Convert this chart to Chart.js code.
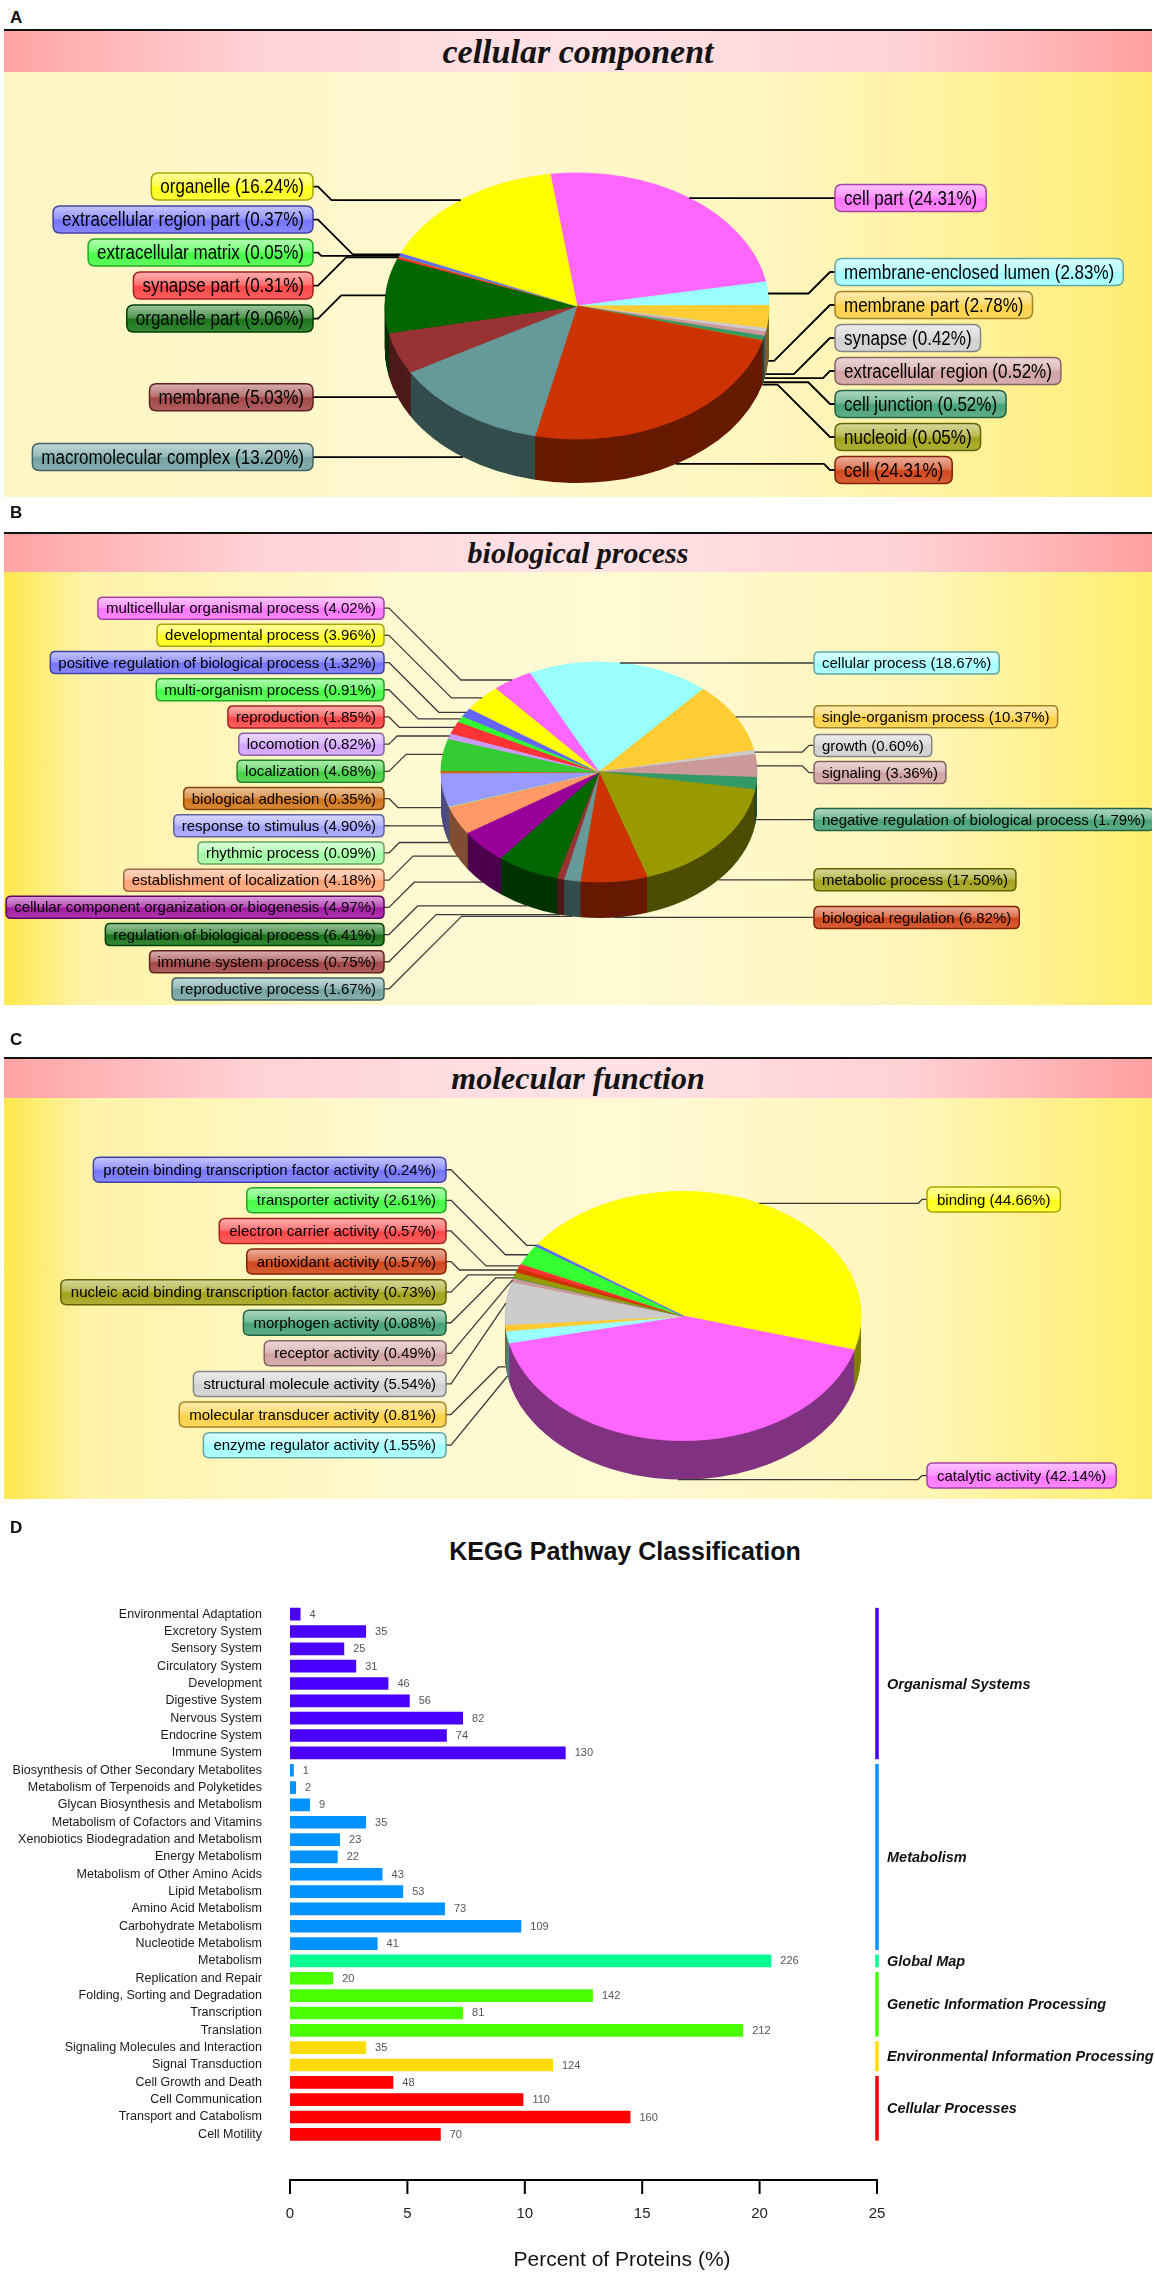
<!DOCTYPE html>
<html>
<head>
<meta charset="utf-8">
<title>GO and KEGG classification</title>
<script src="https://cdn.jsdelivr.net/npm/chart.js@4.4.1/dist/chart.umd.min.js"></script>
<style>
  body { margin: 0; background: #fff; }
  #page { position: relative; width: 1155px; height: 2278px; overflow: hidden; }
  .letter { position: absolute; left: 10px; font: bold 17px 'Liberation Sans', Arial, sans-serif; color: #111; line-height: 20px; }
  .frame { position: absolute; left: 4px; width: 1148px; border-top: 2px solid #111; }
  .head { background: linear-gradient(to right, #ffa4a4 0%, #ffd2d6 22%, #ffe3e7 50%, #ffd2d6 78%, #ffa0a0 100%); text-align: center; font-family: 'Liberation Serif', 'DejaVu Serif', serif; font-style: italic; font-weight: bold; color: #141414; }
  .body { position: relative; }
  .body canvas { position: absolute; left: 0; }
  .yA { background: linear-gradient(to right, #fff5c4 0%, #fff8d0 40%, #fff5bb 70%, #fff08c 90%, #ffec70 100%); }
  .yBC { background: linear-gradient(to right, #ffe84c 0%, #fff3a8 7%, #fff9d2 35%, #fff9d4 55%, #fff5b8 80%, #ffee6c 100%); }
  #keggTitle { position: absolute; left: 375px; width: 500px; top: 1536px; text-align: center; font: bold 25px 'Liberation Sans', Arial, sans-serif; color: #111; line-height: 30px; }
  #keggChart { position: absolute; left: 0; top: 1570px; }
</style>
</head>
<body>
<div id="page">
  <div class="letter" style="top:8px">A</div>
  <div class="frame" style="top:29px">
    <div class="head" style="height:41px; line-height:41px; font-size:34px">cellular component</div>
    <div class="body yA" style="height:425px"><canvas id="ccChart" width="1148" height="440" style="top:0"></canvas></div>
  </div>

  <div class="letter" style="top:503px">B</div>
  <div class="frame" style="top:532px">
    <div class="head" style="height:38px; line-height:38px; font-size:30px">biological process</div>
    <div class="body yBC" style="height:433px"><canvas id="bpChart" width="1148" height="430" style="top:6px"></canvas></div>
  </div>

  <div class="letter" style="top:1030px">C</div>
  <div class="frame" style="top:1057px">
    <div class="head" style="height:39px; line-height:39px; font-size:32px">molecular function</div>
    <div class="body yBC" style="height:401px"><canvas id="mfChart" width="1148" height="412" style="top:0"></canvas></div>
  </div>

  <div class="letter" style="top:1518px">D</div>
  <div id="keggTitle">KEGG Pathway Classification</div>
  <canvas id="keggChart" width="1155" height="708"></canvas>
</div>

<script>
// ---- A: cellular component (clockwise from the top)
const ccLabels = ['cell part', 'membrane-enclosed lumen', 'membrane part', 'synapse', 'extracellular region',
  'cell junction', 'nucleoid', 'cell', 'macromolecular complex', 'membrane', 'organelle part',
  'synapse part', 'extracellular matrix', 'extracellular region part', 'organelle'];
const ccValues = [24.31, 2.83, 2.78, 0.42, 0.52, 0.52, 0.05, 24.31, 13.20, 5.03, 9.06, 0.31, 0.05, 0.37, 16.24];
const ccColors = ['#ff66ff', '#99ffff', '#ffcc33', '#cccccc', '#cc9999', '#339966', '#999900', '#cc3300',
  '#669999', '#993333', '#006600', '#ff3333', '#33ff33', '#6666ff', '#ffff00'];

// ---- B: biological process
const bpLabels = ['cellular process', 'single-organism process', 'growth', 'signaling',
  'negative regulation of biological process', 'metabolic process', 'biological regulation',
  'reproductive process', 'immune system process', 'regulation of biological process',
  'cellular component organization or biogenesis', 'establishment of localization', 'rhythmic process',
  'response to stimulus', 'biological adhesion', 'localization', 'locomotion', 'reproduction',
  'multi-organism process', 'positive regulation of biological process', 'developmental process',
  'multicellular organismal process'];
const bpValues = [18.67, 10.37, 0.60, 3.36, 1.79, 17.50, 6.82, 1.67, 0.75, 6.41, 4.97, 4.18, 0.09, 4.90,
  0.35, 4.68, 0.82, 1.85, 0.91, 1.32, 3.96, 4.02];
const bpColors = ['#99ffff', '#ffcc33', '#cccccc', '#cc9999', '#339966', '#999900', '#cc3300', '#669999',
  '#993333', '#006600', '#990099', '#ff9966', '#99ff99', '#9999ff', '#cc6600', '#33cc33', '#cc99ff',
  '#ff3333', '#33ff33', '#6666ff', '#ffff00', '#ff66ff'];

// ---- C: molecular function
const mfLabels = ['binding', 'catalytic activity', 'enzyme regulator activity', 'molecular transducer activity',
  'structural molecule activity', 'receptor activity', 'morphogen activity',
  'nucleic acid binding transcription factor activity', 'antioxidant activity', 'electron carrier activity',
  'transporter activity', 'protein binding transcription factor activity'];
const mfValues = [44.66, 42.14, 1.55, 0.81, 5.54, 0.49, 0.08, 0.73, 0.57, 0.57, 2.61, 0.24];
const mfColors = ['#ffff00', '#ff66ff', '#99ffff', '#ffcc33', '#cccccc', '#cc9999', '#339966', '#999900',
  '#cc3300', '#ff3333', '#33ff33', '#6666ff'];

// ---- D: KEGG pathway classification
const keggPathways = ['Environmental Adaptation', 'Excretory System', 'Sensory System', 'Circulatory System',
  'Development', 'Digestive System', 'Nervous System', 'Endocrine System', 'Immune System',
  'Biosynthesis of Other Secondary Metabolites', 'Metabolism of Terpenoids and Polyketides',
  'Glycan Biosynthesis and Metabolism', 'Metabolism of Cofactors and Vitamins',
  'Xenobiotics Biodegradation and Metabolism', 'Energy Metabolism', 'Metabolism of Other Amino Acids',
  'Lipid Metabolism', 'Amino Acid Metabolism', 'Carbohydrate Metabolism', 'Nucleotide Metabolism',
  'Metabolism', 'Replication and Repair', 'Folding, Sorting and Degradation', 'Transcription', 'Translation',
  'Signaling Molecules and Interaction', 'Signal Transduction', 'Cell Growth and Death', 'Cell Communication',
  'Transport and Catabolism', 'Cell Motility'];
const keggPercent = [0.45, 3.24, 2.31, 2.82, 4.19, 5.10, 7.37, 6.68, 11.74, 0.16, 0.26, 0.85, 3.24, 2.13, 2.03,
  3.94, 4.82, 6.60, 9.85, 3.73, 20.5, 1.84, 12.9, 7.37, 19.3, 3.24, 11.2, 4.40, 9.94, 14.5, 6.42];
const keggCounts = [4, 35, 25, 31, 46, 56, 82, 74, 130, 1, 2, 9, 35, 23, 22, 43, 53, 73, 109, 41, 226, 20, 142,
  81, 212, 35, 124, 48, 110, 160, 70];
const keggGroupOf = [0, 0, 0, 0, 0, 0, 0, 0, 0, 1, 1, 1, 1, 1, 1, 1, 1, 1, 1, 1, 2, 3, 3, 3, 3, 4, 4, 5, 5, 5, 5];
const keggGroups = ['Organismal Systems', 'Metabolism', 'Global Map', 'Genetic Information Processing',
  'Environmental Information Processing', 'Cellular Processes'];
const keggGroupColors = ['#4900ff', '#0092ff', '#00ff92', '#49ff00', '#ffdb00', '#ff0000'];
const keggTicks = [0, 5, 10, 15, 20, 25];

const SANS = "'Liberation Sans', Arial, sans-serif";

function hexToRgb(h) {
  const n = parseInt(h.slice(1), 16);
  return [(n >> 16) & 255, (n >> 8) & 255, n & 255];
}
function mix(h, t, f) {
  const a = hexToRgb(h), b = hexToRgb(t);
  return 'rgb(' + a.map((v, i) => Math.round(v + (b[i] - v) * f)).join(',') + ')';
}

function roundRect(ctx, x, y, w, h, r) {
  ctx.beginPath();
  ctx.moveTo(x + r, y);
  ctx.lineTo(x + w - r, y);
  ctx.quadraticCurveTo(x + w, y, x + w, y + r);
  ctx.lineTo(x + w, y + h - r);
  ctx.quadraticCurveTo(x + w, y + h, x + w - r, y + h);
  ctx.lineTo(x + r, y + h);
  ctx.quadraticCurveTo(x, y + h, x, y + h - r);
  ctx.lineTo(x, y + r);
  ctx.quadraticCurveTo(x, y, x + r, y);
  ctx.closePath();
}

// labels that would overlap are grouped and centred on the mean of their anchors
function spread(items, gap, minY, maxY) {
  items.sort((a, b) => a.ay - b.ay);
  const groups = items.map(it => ({ list: [it], mean: it.ay }));
  const startOf = g => {
    const s = g.mean - (g.list.length - 1) * gap / 2;
    return Math.min(Math.max(s, minY), maxY - (g.list.length - 1) * gap);
  };
  let changed = true;
  while (changed) {
    changed = false;
    for (let i = 0; i < groups.length - 1; i++) {
      const a = groups[i], b = groups[i + 1];
      const aEnd = startOf(a) + (a.list.length - 1) * gap;
      if (startOf(b) - aEnd < gap) {
        const list = a.list.concat(b.list);
        groups.splice(i, 2, { list, mean: list.reduce((s, it) => s + it.ay, 0) / list.length });
        changed = true;
        break;
      }
    }
  }
  groups.forEach(g => {
    const s = startOf(g);
    g.list.forEach((it, j) => { it.ly = s + j * gap; });
  });
}

const pie3d = {
  id: 'pie3d',
  beforeDatasetsDraw(chart, args, o) {
    const ctx = chart.ctx;
    const arcs = chart.getDatasetMeta(0).data;
    const colors = chart.data.datasets[0].backgroundColor;
    const { x: cx, y: cy, outerRadius: r } = arcs[0];
    const k = o.tilt;
    ctx.save();
    ctx.translate(cx, cy);
    ctx.scale(1, k);
    ctx.translate(-cx, -cy);
    // side wall: sectors pushed down, deepest first
    for (let t = o.depth; t > 0; t -= 1) {
      const oy = cy + t / k;
      arcs.forEach((arc, i) => {
        ctx.beginPath();
        ctx.moveTo(cx, oy);
        ctx.arc(cx, oy, r, arc.startAngle, arc.endAngle);
        ctx.closePath();
        ctx.fillStyle = mix(colors[i], '#000000', 0.5);
        ctx.fill();
      });
    }
  },
  afterDatasetsDraw(chart, args, o) {
    const ctx = chart.ctx;
    ctx.restore();
    const arcs = chart.getDatasetMeta(0).data;
    const ds = chart.data.datasets[0];
    const { x: cx, y: cy, outerRadius: r } = arcs[0];
    const items = arcs.map((arc, i) => {
      const a = (arc.startAngle + arc.endAngle) / 2;
      const front = Math.sin(a) > -0.05;
      let theta = (a * 180 / Math.PI + 90) % 360;
      if (theta < 0) theta += 360;
      return {
        i,
        text: chart.data.labels[i] + ' (' + ds.data[i].toFixed(2) + '%)',
        ax: cx + r * Math.cos(a),
        ay: cy + o.tilt * r * Math.sin(a) + (front ? o.depth : 0),
        right: theta < 185
      };
    });
    const left = items.filter(it => !it.right);
    const right = items.filter(it => it.right);
    spread(left, o.gap, o.minY, o.maxY);
    spread(right, o.gap, o.minY, o.maxY);
    left.forEach(it => { it.ly += o.shiftLeft || 0; });
    right.forEach(it => { it.ly += o.shiftRight || 0; });

    ctx.save();
    ctx.font = o.font;
    ctx.textBaseline = 'middle';
    ctx.lineJoin = 'round';
    items.forEach(it => {
      const tw = ctx.measureText(it.text).width * o.scaleX;
      const w = tw + 2 * o.padX;
      const bx = it.right ? o.rightX : o.leftX - w;
      const by = it.ly - o.boxH / 2;
      const ex = it.right ? o.rightX : o.leftX;
      const dir = it.right ? -1 : 1;

      // leader line
      ctx.beginPath();
      ctx.strokeStyle = o.lineColor;
      ctx.lineWidth = o.lineWidth;
      const sx = ex + dir * o.stub;
      ctx.moveTo(ex, it.ly);
      ctx.lineTo(sx, it.ly);
      const kx = sx + dir * Math.abs(it.ay - it.ly);
      if ((it.ax - kx) * dir > 0) {
        ctx.lineTo(kx, it.ay);
        ctx.lineTo(it.ax, it.ay);
      } else {
        ctx.lineTo(it.ax, it.ay);
      }
      ctx.stroke();

      // glossy label box
      const c = ds.backgroundColor[it.i];
      const g = ctx.createLinearGradient(0, by, 0, by + o.boxH);
      g.addColorStop(0, mix(c, '#ffffff', 0.62));
      g.addColorStop(0.46, mix(c, '#ffffff', 0.32));
      g.addColorStop(0.54, mix(c, '#ffffff', 0.1));
      g.addColorStop(1, mix(c, '#ffffff', 0.22));
      roundRect(ctx, bx, by, w, o.boxH, o.radius);
      ctx.fillStyle = g;
      ctx.fill();
      ctx.strokeStyle = mix(c, '#000000', 0.35);
      ctx.lineWidth = 1.5;
      ctx.stroke();

      ctx.save();
      ctx.translate(bx + o.padX, it.ly + 1);
      ctx.scale(o.scaleX, 1);
      ctx.fillStyle = '#000';
      ctx.fillText(it.text, 0, 0);
      ctx.restore();
    });
    ctx.restore();
  }
};

function makePie(id, labels, values, colors, cfg) {
  const canvas = document.getElementById(id);
  return new Chart(canvas, {
    type: 'pie',
    data: {
      labels: labels,
      datasets: [{ data: values, backgroundColor: colors, borderColor: colors, borderWidth: 1 }]
    },
    options: {
      responsive: false,
      animation: false,
      events: [],
      rotation: cfg.rotation,
      radius: cfg.r,
      layout: {
        padding: {
          left: cfg.cx - cfg.r,
          right: canvas.width - cfg.cx - cfg.r,
          top: cfg.cy - cfg.r,
          bottom: canvas.height - cfg.cy - cfg.r
        }
      },
      plugins: { legend: { display: false }, tooltip: { enabled: false }, pie3d: cfg }
    },
    plugins: [pie3d]
  });
}

makePie('ccChart', ccLabels, ccValues, ccColors, {
  rotation: -8, cx: 573, cy: 234, r: 192, tilt: 0.693, depth: 44,
  leftX: 309, rightX: 831, gap: 33, boxH: 27, radius: 7, padX: 9, stub: 5,
  font: '20px ' + SANS, scaleX: 0.85, minY: 14, maxY: 398,
  lineColor: '#000', lineWidth: 1.8
});

makePie('bpChart', bpLabels, bpValues, bpColors, {
  rotation: -26, cx: 595, cy: 194, r: 158, tilt: 0.696, depth: 36,
  leftX: 380, rightX: 810, gap: 27.2, boxH: 22, radius: 5, padX: 8, stub: 5,
  font: '15px ' + SANS, scaleX: 1, minY: 12, maxY: 420,
  lineColor: '#3a3a3a', lineWidth: 1.3
});

makePie('mfChart', mfLabels, mfValues, mfColors, {
  rotation: -55, cx: 679, cy: 218, r: 178, tilt: 0.70, depth: 39,
  leftX: 442, rightX: 923, gap: 30.6, boxH: 25, radius: 6, padX: 10, stub: 5,
  font: '15px ' + SANS, scaleX: 1, minY: 12, maxY: 400, shiftLeft: 16, shiftRight: -4,
  lineColor: '#3a3a3a', lineWidth: 1.3
});

// axis, counts and group brackets for the KEGG bars
const keggDecor = {
  id: 'keggDecor',
  afterDraw(chart) {
    const { ctx, chartArea } = chart;
    const xs = chart.scales.x;
    const bars = chart.getDatasetMeta(0).data;
    ctx.save();
    ctx.textBaseline = 'middle';

    ctx.font = '11px ' + SANS;
    ctx.fillStyle = '#555';
    ctx.textAlign = 'left';
    bars.forEach((bar, i) => ctx.fillText(String(keggCounts[i]), bar.x + 9, bar.y + 0.5));

    const ay = chartArea.bottom + 37;
    ctx.strokeStyle = '#000';
    ctx.lineWidth = 2;
    ctx.beginPath();
    ctx.moveTo(xs.getPixelForValue(keggTicks[0]), ay);
    ctx.lineTo(xs.getPixelForValue(keggTicks[keggTicks.length - 1]), ay);
    keggTicks.forEach(t => {
      const px = xs.getPixelForValue(t);
      ctx.moveTo(px, ay - 1);
      ctx.lineTo(px, ay + 14);
    });
    ctx.stroke();
    ctx.font = '15px ' + SANS;
    ctx.fillStyle = '#222';
    ctx.textAlign = 'center';
    keggTicks.forEach(t => ctx.fillText(String(t), xs.getPixelForValue(t), ay + 34));
    ctx.font = '21px ' + SANS;
    ctx.fillStyle = '#111';
    ctx.fillText('Percent of Proteins (%)', 622, ay + 80);

    const gx = xs.getPixelForValue(25);
    ctx.textAlign = 'left';
    ctx.font = 'italic bold 14.5px ' + SANS;
    keggGroups.forEach((name, g) => {
      const idx = [];
      keggGroupOf.forEach((v, i) => { if (v === g) idx.push(i); });
      const first = bars[idx[0]], last = bars[idx[idx.length - 1]];
      const top = first.y - first.height / 2, bottom = last.y + last.height / 2;
      ctx.fillStyle = keggGroupColors[g];
      ctx.fillRect(gx - 1.75, top, 3.5, bottom - top);
      ctx.fillStyle = '#111';
      ctx.fillText(name, gx + 10, (top + bottom) / 2 + 1);
    });
    ctx.restore();
  }
};

new Chart(document.getElementById('keggChart'), {
  type: 'bar',
  data: {
    labels: keggPathways,
    datasets: [{
      data: keggPercent,
      backgroundColor: keggGroupOf.map(g => keggGroupColors[g]),
      barPercentage: 0.73,
      categoryPercentage: 1
    }]
  },
  options: {
    indexAxis: 'y',
    responsive: false,
    animation: false,
    events: [],
    layout: { padding: { left: 0, right: 278, top: 21, bottom: 135 } },
    scales: {
      x: { display: false, min: 0, max: 25 },
      y: {
        grid: { display: false, drawTicks: false },
        border: { display: false },
        ticks: { color: '#1a1a1a', font: { size: 12.5, family: SANS }, padding: 28, autoSkip: false },
        afterFit: scale => { scale.width = 290; }
      }
    },
    plugins: { legend: { display: false }, tooltip: { enabled: false } }
  },
  plugins: [keggDecor]
});
</script>
</body>
</html>
